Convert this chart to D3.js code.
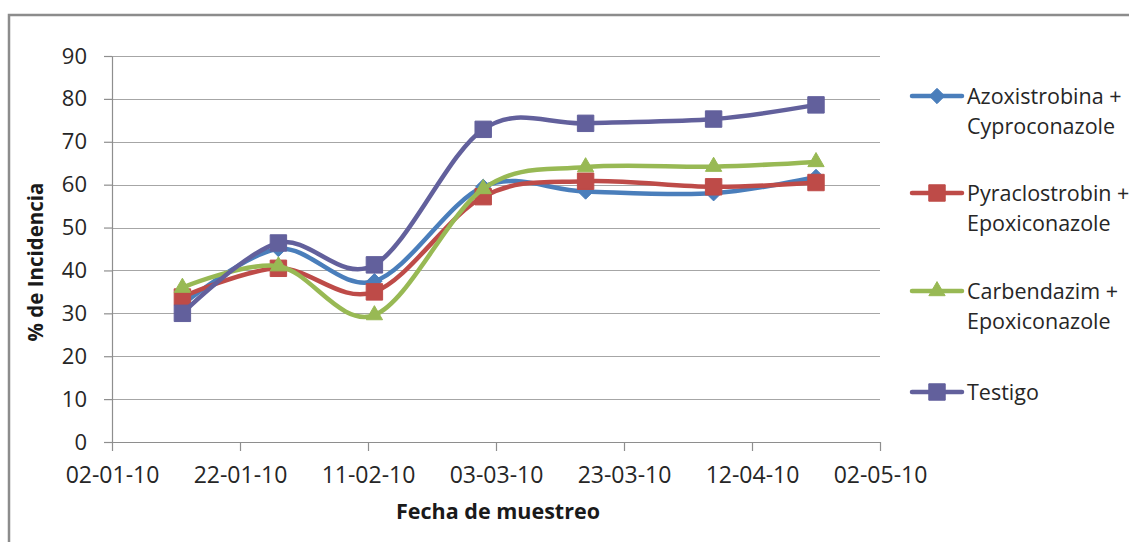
<!DOCTYPE html>
<html>
<head>
<meta charset="utf-8">
<script src="https://cdn.jsdelivr.net/npm/d3@7"></script>
<style>
  html, body { margin: 0; padding: 0; background: #fff; }
  svg { display: block; font-family: "Open Sans", "Liberation Sans", sans-serif; }
</style>
</head>
<body>
<svg id="chart" width="1129" height="542"></svg>
<script>
// Sampling dates (dd-mm-yy)
const sampleDates = ["13-01-10", "28-01-10", "12-02-10", "01-03-10", "17-03-10", "06-04-10", "22-04-10"];

// % incidence per treatment
const azoxistrobina  = [32.0, 45.0, 37.5, 59.5, 58.4, 58.0, 61.8];
const pyraclostrobin = [33.8, 40.5, 35.0, 57.2, 60.8, 59.5, 60.5];
const carbendazim    = [36.0, 41.0, 29.6, 59.0, 64.1, 64.2, 65.3];
const testigo        = [30.0, 46.4, 41.3, 72.9, 74.3, 75.3, 78.6];

const seriesNames = [
  ["Azoxistrobina +", "Cyproconazole"],
  ["Pyraclostrobin +", "Epoxiconazole"],
  ["Carbendazim +", "Epoxiconazole"],
  ["Testigo"]
];

// Axis tick labels
const xTickLabels = ["02-01-10", "22-01-10", "11-02-10", "03-03-10", "23-03-10", "12-04-10", "02-05-10"];
const yTickLabels = [0, 10, 20, 30, 40, 50, 60, 70, 80, 90];

const parse = d3.timeParse("%d-%m-%y");
const fmt = d3.timeFormat("%d-%m-%y");

const svg = d3.select("#chart");

// Outer chart frame
svg.append("path")
  .attr("d", "M9,542 V15 H1129")
  .attr("fill", "none")
  .attr("stroke", "#8c8c8c")
  .attr("stroke-width", 2.5);

const plot = { left: 112, right: 880, top: 56, bottom: 442 };

const x = d3.scaleTime()
  .domain([parse(xTickLabels[0]), parse(xTickLabels[xTickLabels.length - 1])])
  .range([plot.left, plot.right]);

const y = d3.scaleLinear()
  .domain([0, 90])
  .range([plot.bottom, plot.top]);

const axisColor = "#8e8e8e";

// Horizontal gridlines
svg.append("g")
  .selectAll("line")
  .data(yTickLabels.filter(v => v > 0))
  .join("line")
  .attr("x1", plot.left).attr("x2", plot.right)
  .attr("y1", d => Math.round(y(d)) + 0.5).attr("y2", d => Math.round(y(d)) + 0.5)
  .attr("stroke", "#a6a6a6")
  .attr("stroke-width", 1.2);

// Y axis
const yAxis = svg.append("g")
  .attr("transform", `translate(${plot.left},0)`)
  .call(d3.axisLeft(y).tickValues(yTickLabels).tickSize(8).tickPadding(17).tickSizeOuter(0));
yAxis.select(".domain").attr("stroke", axisColor).attr("stroke-width", 1.2);
yAxis.selectAll(".tick line").attr("stroke", axisColor).attr("stroke-width", 1.2);
yAxis.selectAll(".tick text")
  .attr("fill", "#262626")
  .style("font-size", "22px")
  .style("font-family", "'Open Sans', sans-serif");

// X axis
const xAxis = svg.append("g")
  .attr("transform", `translate(0,${plot.bottom})`)
  .call(d3.axisBottom(x)
    .tickValues(xTickLabels.map(parse))
    .tickFormat(fmt)
    .tickSize(9).tickPadding(16).tickSizeOuter(0));
xAxis.select(".domain").attr("stroke", axisColor).attr("stroke-width", 1.2);
xAxis.selectAll(".tick line").attr("stroke", axisColor).attr("stroke-width", 1.2);
xAxis.selectAll(".tick text")
  .attr("fill", "#262626")
  .style("font-size", "23px")
  .style("font-family", "'Open Sans', sans-serif");

// Axis titles
svg.append("text")
  .attr("x", 498).attr("y", 519)
  .attr("text-anchor", "middle")
  .attr("font-weight", "bold")
  .attr("font-size", 21.5)
  .attr("fill", "#1a1a1a")
  .text("Fecha de muestreo");

svg.append("text")
  .attr("transform", "translate(43,262) rotate(-90)")
  .attr("text-anchor", "middle")
  .attr("font-weight", "bold")
  .attr("font-size", 20.5)
  .attr("fill", "#1a1a1a")
  .text("% de Incidencia");

// Series definitions
const series = [
  { values: azoxistrobina,  color: "#4a7ebb", marker: "diamond" },
  { values: pyraclostrobin, color: "#be4b48", marker: "square" },
  { values: carbendazim,    color: "#98b954", marker: "triangle" },
  { values: testigo,        color: "#62609c", marker: "square" }
];

const markerSymbols = {
  diamond: d3.symbol().type(d3.symbolDiamond2).size(150),
  square: d3.symbol().type(d3.symbolSquare).size(270),
  triangle: d3.symbol().type(d3.symbolTriangle2).size(190)
};

const line = d3.line()
  .x(d => x(d.date))
  .y(d => y(d.value))
  .curve(d3.curveCardinal.tension(0));

const dates = sampleDates.map(parse);

series.forEach(s => {
  const pts = dates.map((d, i) => ({ date: d, value: s.values[i] }));
  const g = svg.append("g");
  g.append("path")
    .datum(pts)
    .attr("d", line)
    .attr("fill", "none")
    .attr("stroke", s.color)
    .attr("stroke-width", 4.5)
    .attr("stroke-linejoin", "round")
    .attr("stroke-linecap", "round");
  g.selectAll("path.m")
    .data(pts)
    .join("path")
    .attr("class", "m")
    .attr("transform", d => `translate(${x(d.date)},${y(d.value)})`)
    .attr("d", markerSymbols[s.marker])
    .attr("fill", s.color)
    .attr("stroke", s.color)
    .attr("stroke-width", 1);
});

// Legend
const legendY = [96, 193, 291, 392];
const legend = svg.append("g");
series.forEach((s, i) => {
  const g = legend.append("g").attr("transform", `translate(0,${legendY[i]})`);
  g.append("line")
    .attr("x1", 912).attr("x2", 962)
    .attr("stroke", s.color)
    .attr("stroke-width", 4.5)
    .attr("stroke-linecap", "round");
  g.append("path")
    .attr("transform", "translate(937,0)")
    .attr("d", markerSymbols[s.marker])
    .attr("fill", s.color)
    .attr("stroke", s.color);
  const t = g.append("text")
    .attr("x", 967)
    .attr("font-size", 21.5)
    .attr("fill", "#262626");
  seriesNames[i].forEach((ln, j) => {
    t.append("tspan")
      .attr("x", 967)
      .attr("y", j * 30)
      .attr("dy", "0.35em")
      .text(ln);
  });
});
</script>
</body>
</html>
